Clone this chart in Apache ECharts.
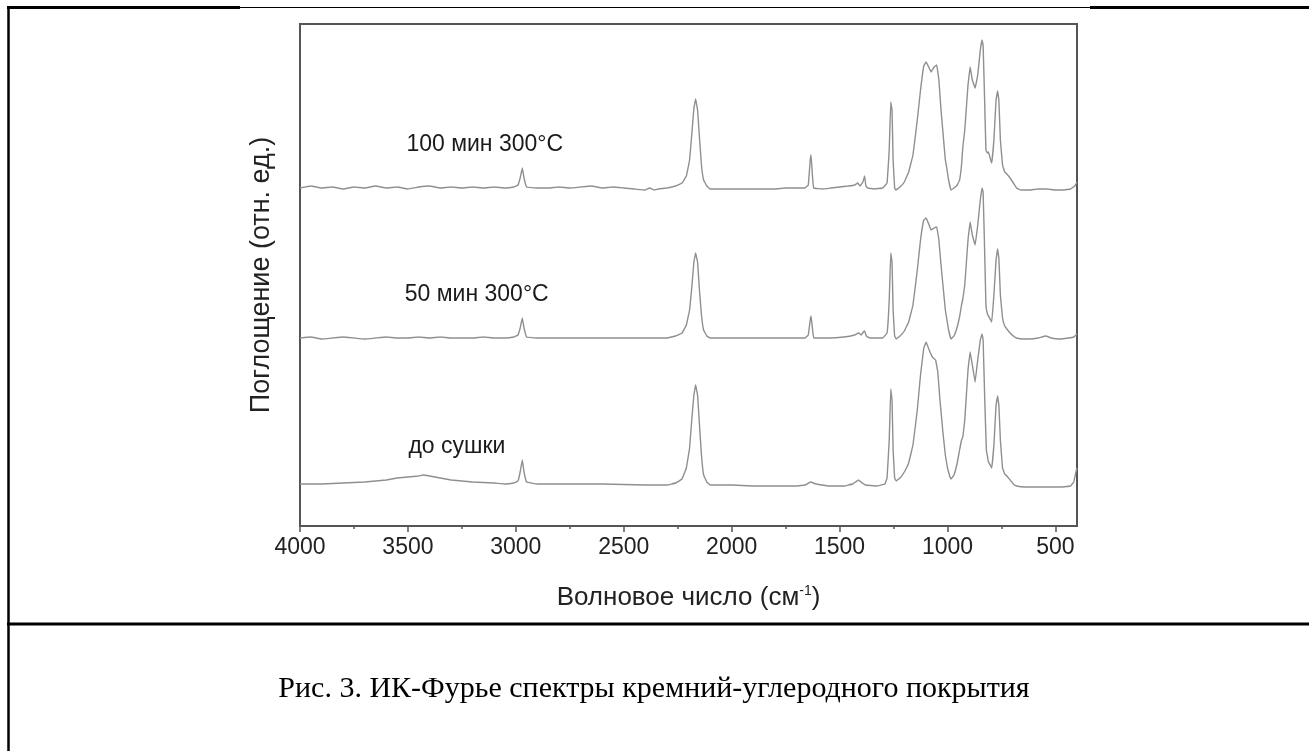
<!DOCTYPE html>
<html><head><meta charset="utf-8">
<script src="https://cdn.jsdelivr.net/npm/echarts@6/dist/echarts.min.js"></script>
<style>html,body{margin:0;padding:0;background:#fff}#c{width:1309px;height:751px}</style>
</head><body><div id="c"></div><script>
// Wavenumber tick labels (cm^-1)
var xMajorTicks = [4000, 3500, 3000, 2500, 2000, 1500, 1000, 500];
var xMinorTicks = [3750, 3250, 2750, 2250, 1750, 1250, 750];

// Series names / annotation texts
var seriesNames = ['100 мин 300°C', '50 мин 300°C', 'до сушки'];
// Annotation anchors [wavenumber, value]
var labelPos = [[3144, 381], [3181, 231], [3273, 79]];

// Spectrum "100 мин 300°C" [wavenumber, absorbance (rel. units, offset included)]
var spec100 = [[4000,338],[3950,340],[3900,338],[3850,339],[3800,337],[3750,339],[3700,338],[3650,340],[3600,338],[3550,339],[3500,337],[3450,339],[3400,340],[3350,338],[3300,339],[3250,338],[3200,339],[3150,338],[3100,339],[3050,338],[3010,339],[2990,341],[2980,348],[2970,358],[2962,348],[2950,339],[2900,338],[2850,338],[2800,339],[2750,338],[2700,339],[2650,340],[2600,338],[2550,339],[2500,338],[2450,337],[2400,336],[2380,338],[2360,336],[2340,337],[2300,338],[2260,340],[2230,343],[2210,350],[2195,366],[2185,391],[2175,418],[2167,427],[2158,416],[2150,391],[2140,361],[2130,346],[2115,340],[2100,337],[2050,337],[2000,337],[1950,337],[1900,337],[1850,337],[1800,337],[1750,338],[1700,338],[1660,338],[1645,341],[1636,366],[1632,371],[1626,351],[1620,338],[1580,337],[1540,338],[1500,339],[1460,340],[1430,341],[1415,343],[1405,340],[1392,344],[1384,350],[1378,340],[1370,338],[1340,337],[1300,338],[1280,343],[1270,376],[1263,424],[1257,416],[1252,366],[1245,338],[1240,336],[1220,339],[1200,344],[1180,354],[1160,371],[1140,406],[1125,436],[1110,460],[1099,464],[1085,458],[1076,454],[1062,459],[1050,461],[1040,446],[1030,416],[1018,386],[1010,366],[1004,359],[995,346],[984,336],[970,338],[955,341],[944,346],[935,361],[929,379],[920,396],[905,441],[895,459],[885,446],[872,438],[860,451],[848,476],[840,486],[835,481],[828,426],[822,376],[815,373],[810,374],[800,366],[795,363],[785,386],[775,426],[768,435],[762,426],[755,386],[745,361],[735,354],[725,352],[710,348],[695,343],[680,338],[660,336],[620,336],[580,337],[540,337],[500,336],[460,336],[430,337],[410,340],[400,344]];

// Spectrum "50 мин 300°C"
var spec50 = [[4000,188],[3950,189],[3900,187],[3850,188],[3800,189],[3750,188],[3700,187],[3650,188],[3600,189],[3550,188],[3500,188],[3450,189],[3400,188],[3350,189],[3300,188],[3250,188],[3200,188],[3150,189],[3100,188],[3050,188],[3010,189],[2990,191],[2980,198],[2970,208],[2962,198],[2950,189],[2900,188],[2800,188],[2700,188],[2600,188],[2500,188],[2400,188],[2300,188],[2260,190],[2230,193],[2210,201],[2195,216],[2185,238],[2175,264],[2167,273],[2158,264],[2150,238],[2140,211],[2130,196],[2115,190],[2100,188],[2000,188],[1900,188],[1800,188],[1700,188],[1660,188],[1645,191],[1636,206],[1632,210],[1626,198],[1620,188],[1550,188],[1480,189],[1430,191],[1412,193],[1400,191],[1390,194],[1384,195],[1376,190],[1360,188],[1300,188],[1280,193],[1270,226],[1263,273],[1257,264],[1252,216],[1245,190],[1238,187],[1220,190],[1200,195],[1180,204],[1160,221],[1140,256],[1125,286],[1110,306],[1099,308],[1085,301],[1076,296],[1062,298],[1050,299],[1040,286],[1030,261],[1018,234],[1010,216],[1004,208],[995,196],[984,187],[970,190],[955,199],[944,209],[935,221],[929,227],[920,241],[905,286],[895,304],[885,291],[872,281],[860,301],[848,326],[840,338],[835,334],[828,276],[822,221],[815,212],[805,208],[795,204],[785,231],[775,266],[768,277],[762,268],[755,231],[745,208],[735,200],[725,197],[710,193],[695,190],[680,188],[650,187],[620,187],[580,188],[544,190],[520,188],[480,187],[440,188],[415,189],[400,192]];

// Spectrum "до сушки"
var specDry = [[4000,42],[3900,42],[3800,43],[3700,44],[3650,45],[3600,46],[3550,48],[3500,49],[3450,50],[3430,51],[3400,50],[3350,48],[3300,46],[3250,45],[3200,44],[3100,43],[3050,42],[3010,43],[2990,45],[2980,54],[2970,66],[2962,54],[2950,44],[2900,42],[2800,42],[2600,42],[2400,41],[2300,41],[2260,43],[2230,47],[2210,58],[2195,78],[2185,106],[2175,131],[2167,141],[2158,131],[2150,104],[2140,71],[2130,51],[2115,44],[2100,41],[2000,41],[1900,40],[1800,40],[1700,40],[1660,41],[1634,44],[1610,42],[1550,40],[1480,40],[1440,42],[1412,46],[1395,43],[1380,41],[1330,40],[1290,42],[1280,48],[1270,86],[1263,137],[1257,126],[1252,76],[1245,48],[1238,45],[1220,48],[1200,54],[1180,63],[1160,81],[1140,116],[1125,151],[1110,178],[1099,184],[1085,176],[1070,169],[1055,166],[1045,154],[1035,126],[1020,91],[1010,71],[1000,58],[990,50],[984,47],[970,51],[955,63],[944,76],[935,86],[929,89],[920,106],[905,156],[895,174],[885,161],[872,144],[860,166],[848,186],[840,192],[835,186],[828,131],[820,76],[810,64],[800,60],[795,58],[785,81],[775,121],[768,130],[762,121],[755,86],[745,58],[735,52],[725,50],[710,46],[695,42],[680,40],[640,39],[600,39],[560,39],[520,39],[470,39],[430,40],[415,44],[405,54],[400,58]];

var caption = 'Рис. 3. ИК-Фурье спектры кремний-углеродного покрытия';
var xName = '{a|Волновое число (см}{s|-1}{a|)}';
var yName = 'Поглощение (отн. ед.)';

var chart = echarts.init(document.getElementById('c'), null, {renderer: 'canvas'});
var FONT = 'Liberation Sans, Arial, Helvetica, sans-serif';
var lineColor = '#8f8f8f';

function spectrumSeries(name, data) {
  return {
    name: name, type: 'line', data: data, xAxisIndex: 0, yAxisIndex: 0,
    showSymbol: false, smooth: 0.05, animation: false,
    lineStyle: {color: lineColor, width: 1.4}
  };
}

var labelData = labelPos.map(function (p, i) { return {value: [p[0], p[1]], name: seriesNames[i]}; });

chart.setOption({
  animation: false,
  backgroundColor: '#fff',
  grid: {left: 300, right: 232, top: 24, bottom: 225, show: true, borderColor: '#555', borderWidth: 2, backgroundColor: 'transparent'},
  xAxis: [{
    type: 'value', min: 400, max: 4000, inverse: true, position: 'bottom',
    axisLine: {show: false},
    axisTick: {show: true, customValues: xMajorTicks, length: 6, lineStyle: {color: '#555', width: 1.5}},
    axisLabel: {show: true, customValues: xMajorTicks, fontSize: 23, color: '#222', margin: 10, fontFamily: FONT,
      formatter: function (v) { return String(v); }},
    splitLine: {show: false},
    name: xName, nameLocation: 'middle', nameGap: 58,
    nameTextStyle: {fontFamily: FONT, color: '#222', rich: {
      a: {fontSize: 26, fontFamily: FONT, color: '#222'},
      s: {fontSize: 14, fontFamily: FONT, color: '#222', verticalAlign: 'top', padding: [0, 0, 14, 0]}
    }}
  }, {
    type: 'value', min: 400, max: 4000, inverse: true, position: 'bottom',
    axisLine: {show: false},
    axisTick: {show: true, customValues: xMinorTicks, length: 3, lineStyle: {color: '#555', width: 1.5}},
    axisLabel: {show: false},
    splitLine: {show: false}
  }],
  yAxis: {
    type: 'value', min: 0, max: 502,
    axisLine: {show: false}, axisTick: {show: false}, axisLabel: {show: false}, splitLine: {show: false},
    name: yName, nameLocation: 'middle', nameGap: 25, nameRotate: 90,
    nameTextStyle: {fontSize: 27, fontFamily: FONT, color: '#222'}
  },
  series: [
    spectrumSeries(seriesNames[0], spec100),
    spectrumSeries(seriesNames[1], spec50),
    spectrumSeries(seriesNames[2], specDry),
    {
      type: 'scatter', data: labelData, symbolSize: 0, silent: true,
      itemStyle: {opacity: 1},
      label: {show: true, position: 'inside', formatter: '{b}', fontSize: 23, fontFamily: FONT, color: '#1a1a1a', textBorderWidth: 0}
    }
  ],
  graphic: [
    {type: 'line', shape: {x1: 7, y1: 7.5, x2: 240, y2: 7.5}, style: {stroke: '#000', lineWidth: 3}},
    {type: 'line', shape: {x1: 240, y1: 7.5, x2: 1090, y2: 7.5}, style: {stroke: '#000', lineWidth: 1.2}},
    {type: 'line', shape: {x1: 1090, y1: 7.5, x2: 1309, y2: 7.5}, style: {stroke: '#000', lineWidth: 3}},
    {type: 'line', shape: {x1: 8.5, y1: 6, x2: 8.5, y2: 751}, style: {stroke: '#000', lineWidth: 2.5}},
    {type: 'line', shape: {x1: 7, y1: 624, x2: 1309, y2: 624}, style: {stroke: '#000', lineWidth: 3}},
    {type: 'text', x: 654, y: 689, style: {text: caption, fill: '#000', font: '30px "Liberation Serif", "Times New Roman", serif', textAlign: 'center', textVerticalAlign: 'middle'}}
  ]
});
</script></body></html>
